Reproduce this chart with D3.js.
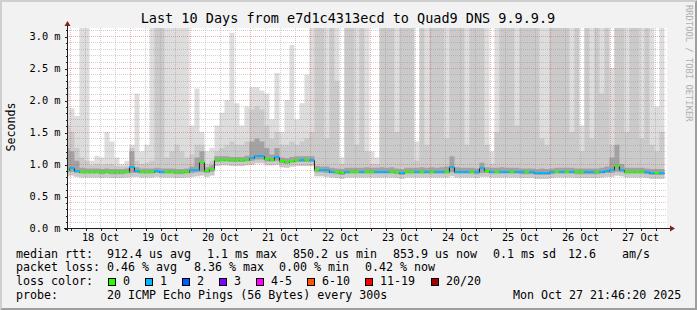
<!DOCTYPE html>
<html>
<head>
<meta charset="utf-8">
<script src="https://cdn.jsdelivr.net/npm/d3@7"></script>
<style>
  body { margin: 0; background: #fff; }
  svg { display: block; font-family: "DejaVu Sans Mono", monospace; }
</style>
</head>
<body>
<div id="chart"></div>
<script>
//////////////////////////////
// DATA
//////////////////////////////

// one bucket = 2 hours, first bucket starts here
const startTime = Date.UTC(2025, 9, 17, 21, 46, 20)
const stepSeconds = 7200

// median rtt (ms)
const median = [
	0.90,0.94,0.89,0.88,0.88,0.88,0.88,0.87,0.88,0.87,0.87,0.87,0.88,0.96,0.89,0.88,0.88,0.88,0.89,0.88,
	0.88,0.88,0.87,0.87,0.88,0.90,0.91,1.03,0.89,0.92,1.07,1.07,1.07,1.06,1.06,1.06,1.07,1.09,1.12,1.12,
	1.08,1.07,1.11,1.04,1.03,1.05,1.06,1.06,1.06,1.06,0.90,0.90,0.90,0.88,0.87,0.86,0.88,0.88,0.88,0.88,
	0.88,0.88,0.88,0.88,0.88,0.88,0.87,0.86,0.88,0.88,0.88,0.88,0.88,0.88,0.88,0.88,0.88,0.96,0.88,0.88,
	0.88,0.88,0.87,0.93,0.89,0.88,0.88,0.88,0.88,0.88,0.88,0.87,0.87,0.87,0.86,0.86,0.86,0.87,0.88,0.88,
	0.88,0.88,0.87,0.87,0.87,0.87,0.87,0.88,0.89,0.90,0.97,0.91,0.88,0.88,0.88,0.88,0.87,0.86,0.86,0.86
]

// lost pings out of 20
const loss = [
	0,1,1,0,0,0,0,0,0,0,0,0,0,1,1,0,0,0,1,1,
	0,0,0,0,0,1,1,0,0,0,0,0,0,0,0,0,0,1,1,1,
	0,0,1,0,0,0,0,1,0,1,0,1,1,1,0,0,1,0,0,1,
	0,0,1,1,1,0,0,1,0,0,1,0,1,0,1,1,0,1,1,1,
	1,0,1,1,0,1,0,1,1,0,1,1,0,1,1,1,1,1,0,1,
	0,1,0,0,1,1,0,1,1,1,0,1,0,0,0,0,1,1,0,1
]

// smoke: lowest ping
const pingMin = [
	0.81,0.82,0.80,0.79,0.79,0.79,0.79,0.78,0.79,0.78,0.78,0.78,0.79,0.80,0.80,0.79,0.79,0.79,0.80,0.79,
	0.79,0.79,0.78,0.78,0.79,0.80,0.81,0.82,0.80,0.82,0.97,0.98,0.98,0.97,0.97,0.97,0.98,0.99,1.01,1.01,
	0.98,0.98,0.99,0.95,0.94,0.96,0.97,0.97,0.97,0.97,0.81,0.81,0.80,0.79,0.78,0.77,0.79,0.79,0.79,0.79,
	0.79,0.79,0.79,0.79,0.79,0.79,0.78,0.77,0.79,0.79,0.79,0.79,0.79,0.79,0.79,0.79,0.79,0.81,0.79,0.79,
	0.79,0.79,0.78,0.80,0.80,0.79,0.79,0.79,0.79,0.79,0.79,0.78,0.78,0.78,0.77,0.77,0.77,0.78,0.79,0.79,
	0.79,0.79,0.78,0.78,0.78,0.78,0.78,0.79,0.80,0.80,0.82,0.81,0.79,0.79,0.79,0.79,0.78,0.77,0.77,0.77
]

// smoke: inner band low edge
const pingLow = [
	0.87,0.88,0.86,0.85,0.85,0.85,0.85,0.84,0.85,0.84,0.84,0.84,0.85,0.86,0.86,0.85,0.85,0.85,0.86,0.85,
	0.85,0.85,0.84,0.84,0.85,0.86,0.87,0.88,0.86,0.88,1.03,1.04,1.04,1.03,1.03,1.03,1.04,1.05,1.07,1.07,
	1.04,1.04,1.05,1.01,1.00,1.02,1.03,1.03,1.03,1.03,0.87,0.87,0.86,0.85,0.84,0.83,0.85,0.85,0.85,0.85,
	0.85,0.85,0.85,0.85,0.85,0.85,0.84,0.83,0.85,0.85,0.85,0.85,0.85,0.85,0.85,0.85,0.85,0.87,0.85,0.85,
	0.85,0.85,0.84,0.86,0.86,0.85,0.85,0.85,0.85,0.85,0.85,0.84,0.84,0.84,0.83,0.83,0.83,0.84,0.85,0.85,
	0.85,0.85,0.84,0.84,0.84,0.84,0.84,0.85,0.86,0.86,0.88,0.87,0.85,0.85,0.85,0.85,0.84,0.83,0.83,0.83
]

// smoke: inner band high edge
const pingHigh = [
	1.25,1.20,1.05,0.94,0.93,0.93,0.93,0.92,0.93,0.92,0.92,0.92,0.93,1.20,0.95,0.93,0.93,0.93,0.94,0.93,
	0.93,0.93,0.92,0.92,0.93,0.96,1.10,1.20,0.95,0.98,1.12,1.12,1.12,1.11,1.11,1.11,1.13,1.35,1.40,1.35,
	1.25,1.15,1.25,1.10,1.09,1.11,1.12,1.12,1.12,1.12,0.97,0.96,0.96,0.94,0.93,0.92,0.94,0.94,0.94,0.94,
	0.95,0.94,0.94,0.95,0.94,0.95,0.93,0.92,0.94,0.94,0.94,0.95,0.94,0.95,0.94,0.95,0.96,1.12,0.95,0.94,
	0.94,0.94,0.93,1.02,0.95,0.94,0.94,0.95,0.94,0.94,0.94,0.93,0.93,0.93,0.92,0.93,0.92,0.93,0.94,0.94,
	0.94,0.94,0.93,0.93,0.93,0.93,0.93,0.94,0.96,1.10,1.30,1.00,0.94,0.94,0.94,0.94,0.93,0.92,0.92,0.92
]

// smoke: second highest ping
const ping19 = [
	1.60,1.50,1.25,1.10,1.05,0.98,1.00,0.98,1.00,1.00,0.97,0.96,0.97,1.25,1.05,1.00,1.02,1.05,3.50,3.50,
	1.10,1.20,1.30,1.20,1.10,1.15,1.30,1.30,1.00,1.05,1.20,1.25,1.30,1.35,1.30,1.30,1.35,1.85,1.90,1.85,
	1.60,1.40,1.50,1.30,1.30,1.35,1.30,1.35,1.40,1.50,3.50,3.50,1.40,3.50,2.30,1.00,3.50,3.50,1.30,3.50,
	1.20,1.00,1.00,3.50,3.50,3.50,1.50,3.50,3.50,3.50,1.05,3.50,1.30,3.50,3.50,3.50,1.40,3.50,3.50,3.50,
	1.30,3.50,3.50,3.50,1.30,1.00,1.50,3.50,3.50,3.50,1.60,3.50,3.50,3.50,3.50,1.40,1.30,3.50,3.50,3.50,
	3.50,1.50,3.50,1.20,3.50,1.40,3.50,2.10,3.50,1.30,3.50,3.50,1.50,3.50,3.50,1.40,3.50,1.30,1.20,1.50
]

// smoke: highest ping
const pingMax = [
	2.30,1.87,1.75,3.50,3.50,1.05,1.13,1.10,1.50,1.35,1.10,1.00,1.05,1.30,2.10,1.20,1.30,3.50,3.50,3.50,
	3.50,3.50,3.50,3.50,3.50,1.60,2.18,1.50,1.20,1.25,1.60,1.80,2.00,3.05,1.95,1.60,1.90,2.20,2.20,2.15,
	2.10,1.70,2.42,1.50,2.00,2.86,1.70,1.95,2.40,3.50,3.50,3.50,3.50,3.50,3.50,1.10,3.50,3.50,3.50,3.50,
	3.50,1.20,1.10,3.50,3.50,3.50,3.50,3.50,3.50,3.50,1.35,3.50,3.50,3.50,3.50,3.50,3.50,3.50,3.50,3.50,
	3.50,3.50,3.50,3.50,3.50,1.20,3.50,3.50,3.50,3.50,3.50,3.50,3.50,3.50,3.50,3.50,3.50,3.50,3.50,3.50,
	3.50,3.50,3.50,1.60,3.50,3.50,3.50,3.50,3.50,2.50,3.50,3.50,3.50,3.50,3.50,3.50,3.50,3.50,1.90,3.50
]

const yTicks = [0, 0.5, 1.0, 1.5, 2.0, 2.5, 3.0]
const dayLabels = ["18 Oct","19 Oct","20 Oct","21 Oct","22 Oct","23 Oct","24 Oct","25 Oct","26 Oct","27 Oct"]

const lossLabels = ["0","1","2","3","4-5","6-10","11-19","20/20"]
const lossColors = ["#26ff00","#00b8ff","#0059ff","#7e00ff","#ff00ff","#ff5500","#ff0000","#a10000"]

const title = "Last 10 Days from e7d1c4313ecd to Quad9 DNS 9.9.9.9"
const rttText = ["median rtt:","912.4 us avg","1.1 ms max","850.2 us min","853.9 us now","0.1 ms sd","12.6","am/s"]
const lossText = ["packet loss:","0.46 % avg","8.36 % max","0.00 % min","0.42 % now"]
const probeText = ["probe:","20 ICMP Echo Pings (56 Bytes) every 300s","Mon Oct 27 21:46:20 2025"]

//////////////////////////////
// LAYOUT
//////////////////////////////

const W = 697
const H = 310
const plot = { left: 67, right: 667, top: 28, bottom: 228 }

const rttX = [16, 107, 207, 293, 393, 493, 568, 622]
const lossX = [16, 107, 194, 279, 365]
const probeX = [16, 107, 513]
const boxX = [108.5, 145.5, 182.5, 219.5, 256.5, 307.5, 365.5, 431.5]

const gridMinor = "rgba(143,143,143,0.4)"
const gridMajor = "rgba(222,79,79,0.45)"

//////////////////////////////
// CHART
//////////////////////////////

const drawChart = () => {

	let x = d3.scaleUtc()
		.domain([new Date(Date.UTC(2025, 9, 17, 22, 48)), new Date(Date.UTC(2025, 9, 27, 22, 48))])
		.range([plot.left, plot.right])
	let y = d3.scaleLinear().domain([0, 3.125]).range([plot.bottom, plot.top])

	let svg = d3.select("#chart").append("svg").attr("width", W).attr("height", H)

	// background and bevel
	svg.append("rect").attr("width", W).attr("height", H).attr("fill", "#f2f2f2")
	svg.append("path").attr("d", `M0,0H${W}L${W-2},2H2V${H-2}L0,${H}Z`).attr("fill", "#cfcfcf")
	svg.append("path").attr("d", `M${W},${H}H0L2,${H-2}H${W-2}V2L${W},0Z`).attr("fill", "#9e9e9e")

	svg.append("rect")
		.attr("x", plot.left).attr("y", plot.top)
		.attr("width", plot.right - plot.left).attr("height", plot.bottom - plot.top)
		.attr("fill", "#ffffff")

	svg.append("clipPath").attr("id", "clip").append("rect")
		.attr("x", plot.left).attr("y", plot.top)
		.attr("width", plot.right - plot.left).attr("height", plot.bottom - plot.top)

	// bucket points, last one repeated at the end time for step areas
	let n = median.length
	let pts = d3.range(n + 1).map((k) => {
		return { t: new Date(startTime + k * stepSeconds * 1000), i: Math.min(k, n - 1) }
	})

	let g = svg.append("g").attr("clip-path", "url(#clip)")

	let band = (lo, hi, color) => {
		let area = d3.area().curve(d3.curveStepAfter)
			.x((d) => x(d.t))
			.y0((d) => y(lo[d.i]))
			.y1((d) => y(hi[d.i]))
		g.append("path").attr("d", area(pts)).attr("fill", color)
	}

	band(pingMin, pingMax, "#dddddd")
	band(pingMin, ping19, "#cacaca")
	band(pingLow, pingHigh, "#a2a2a2")

	// grid
	let grid = svg.append("g").attr("shape-rendering", "crispEdges")
	let [t0, t1] = x.domain()

	d3.utcHour.every(6).range(t0, t1).forEach((t) => {
		let major = t.getUTCHours() === 0
		let px = Math.round(x(t)) + 0.5
		grid.append("line")
			.attr("x1", px).attr("x2", px).attr("y1", plot.top).attr("y2", plot.bottom)
			.attr("stroke", major ? gridMajor : gridMinor)
			.attr("stroke-dasharray", "1,1")
	})

	d3.range(1, 32).forEach((k) => {
		let major = k % 5 === 0
		let py = Math.round(y(k / 10)) + 0.5
		grid.append("line")
			.attr("x1", plot.left).attr("x2", plot.right).attr("y1", py).attr("y2", py)
			.attr("stroke", major ? gridMajor : gridMinor)
			.attr("stroke-dasharray", "1,1")
	})

	// median: dark step line with loss coloured segments on top
	let medLine = d3.line().curve(d3.curveStepAfter)
		.x((d) => x(d.t))
		.y((d) => Math.round(y(median[d.i])) + 0.5)

	let m = svg.append("g").attr("clip-path", "url(#clip)")
	m.append("path").attr("d", medLine(pts)).attr("fill", "none").attr("stroke", "#202020").attr("stroke-width", 1)

	m.selectAll("line.seg").data(d3.range(n)).enter().append("line")
		.attr("class", "seg")
		.attr("x1", (i) => x(pts[i].t))
		.attr("x2", (i) => x(pts[i + 1].t))
		.attr("y1", (i) => Math.round(y(median[i])))
		.attr("y2", (i) => Math.round(y(median[i])))
		.attr("stroke", (i) => lossColors[loss[i]])
		.attr("stroke-width", 2)

	// axes
	let axisG = svg.append("g").attr("shape-rendering", "crispEdges")

	let yAxis = d3.axisLeft(y).tickValues(yTicks).tickSize(3).tickPadding(4)
		.tickFormat((d) => d.toFixed(1) + " m")
	let yg = axisG.append("g").attr("transform", `translate(${plot.left + 0.5},0.5)`).call(yAxis)
	yg.select(".domain").remove()
	yg.selectAll("text").attr("font-size", "10.3px").attr("font-family", "DejaVu Sans Mono").attr("fill", "#000")
	yg.selectAll("line").attr("stroke", "#1f1f1f")

	let yMinor = d3.axisLeft(y).tickValues(d3.range(1, 32).filter((k) => k % 5 !== 0).map((k) => k / 10))
		.tickSize(2).tickFormat("")
	let ymg = axisG.append("g").attr("transform", `translate(${plot.left + 0.5},0.5)`).call(yMinor)
	ymg.select(".domain").remove()
	ymg.selectAll("line").attr("stroke", "#1f1f1f")

	let xTicks = d3.axisBottom(x).tickValues(d3.utcHour.every(6).range(t0, t1))
		.tickSize(2).tickFormat("")
	let xtg = axisG.append("g").attr("transform", `translate(0.5,${plot.bottom + 0.5})`).call(xTicks)
	xtg.select(".domain").remove()
	xtg.selectAll("line").attr("stroke", "#1f1f1f")

	let noons = dayLabels.map((_, k) => new Date(Date.UTC(2025, 9, 18 + k, 12)))
	let xAxis = d3.axisBottom(x).tickValues(noons).tickSize(0).tickPadding(5.5)
		.tickFormat((d, k) => dayLabels[k])
	let xg = axisG.append("g").attr("transform", `translate(0,${plot.bottom})`).call(xAxis)
	xg.select(".domain").remove()
	xg.selectAll("text").attr("font-size", "10.3px").attr("font-family", "DejaVu Sans Mono").attr("fill", "#000")

	axisG.append("line")
		.attr("x1", plot.left - 3).attr("x2", plot.right + 4)
		.attr("y1", plot.bottom + 0.5).attr("y2", plot.bottom + 0.5)
		.attr("stroke", "#1f1f1f")
	axisG.append("line")
		.attr("x1", plot.left + 0.5).attr("x2", plot.left + 0.5)
		.attr("y1", plot.bottom + 3).attr("y2", plot.top - 4)
		.attr("stroke", "#1f1f1f")

	// arrows
	svg.append("path")
		.attr("d", `M${plot.left + 0.5},${plot.top - 7}L${plot.left + 3.5},${plot.top - 2}L${plot.left - 2.5},${plot.top - 2}Z`)
		.attr("fill", "#801f1f")
	svg.append("path")
		.attr("d", `M${plot.right + 8},${plot.bottom + 0.5}L${plot.right + 3},${plot.bottom - 2.5}L${plot.right + 3},${plot.bottom + 3.5}Z`)
		.attr("fill", "#801f1f")

	// titles
	svg.append("text")
		.attr("x", 348).attr("y", 23)
		.attr("text-anchor", "middle")
		.attr("font-size", "13.5px")
		.text(title)

	svg.append("text")
		.attr("transform", "translate(15,127) rotate(-90)")
		.attr("text-anchor", "middle")
		.attr("font-size", "11.65px")
		.text("Seconds")

	svg.append("text")
		.attr("transform", "translate(685.5,5) rotate(90)")
		.attr("font-size", "8.8px")
		.attr("fill", "#b0b0b0")
		.text("RRDTOOL / TOBI OETIKER")

	// legend
	let legend = svg.append("g").attr("font-size", "11.65px").attr("fill", "#000")

	let row = (texts, xs, yPos) => {
		texts.forEach((s, k) => {
			legend.append("text").attr("x", xs[k]).attr("y", yPos).text(s)
		})
	}

	row(rttText, rttX, 257.5)
	row(lossText, lossX, 271)
	row(probeText, probeX, 299)

	legend.append("text").attr("x", 16).attr("y", 285).text("loss color:")
	lossLabels.forEach((s, k) => {
		legend.append("rect")
			.attr("x", boxX[k]).attr("y", 278.5).attr("width", 7).attr("height", 7)
			.attr("fill", lossColors[k]).attr("stroke", "#000").attr("stroke-width", 1)
		legend.append("text").attr("x", boxX[k] + 14.5).attr("y", 285).text(s)
	})
}

//////////////////////////////
// GO
//////////////////////////////

drawChart()
</script>
</body>
</html>
